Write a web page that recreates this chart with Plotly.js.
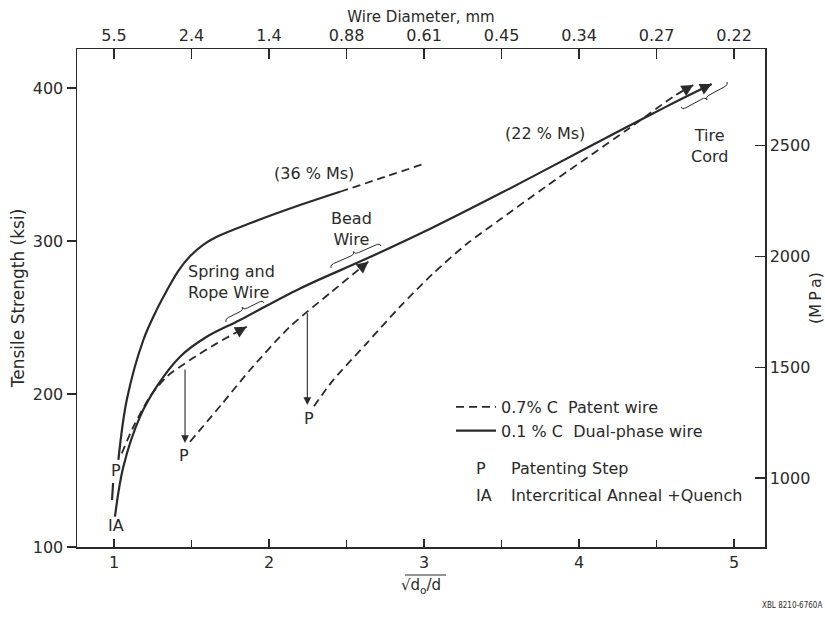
<!DOCTYPE html>
<html>
<head>
<meta charset="utf-8">
<script src="https://cdn.plot.ly/plotly-3.0.1.min.js"></script>
<style>html,body{margin:0;padding:0;background:#fff;}#chart{width:825px;height:623px;}</style>
</head>
<body>
<div id="chart"></div>
<script>
// ---------- data (x = sqrt(d0/d), y = tensile strength in ksi) ----------
const upperSolidX = [1.028, 1.082, 1.189, 1.275, 1.34, 1.415, 1.49, 1.575, 1.663, 1.877, 2.2, 2.458];
const upperSolidY = [156.9, 196.1, 235.3, 255.0, 267.5, 280.5, 290.0, 297.5, 302.8, 311.6, 323.5, 332.2];
const upperExtX = [2.458, 2.75, 2.994];
const upperExtY = [332.2, 342.0, 350.3];

const lowerSolidX = [1.006, 1.06, 1.168, 1.275, 1.426, 1.598, 1.813, 2.2, 2.63, 3.06, 3.49, 3.792, 4.308, 4.566, 4.856];
const lowerSolidY = [119.8, 152.5, 185.2, 204.8, 224.4, 237.4, 248.4, 269.0, 288.5, 309.0, 331.0, 347.0, 374.5, 388.0, 402.6];

const patent0X = [0.987, 0.994];
const patent0Y = [130.7, 141.8];
const patent1X = [1.05, 1.125, 1.232, 1.34, 1.49, 1.663, 1.856];
const patent1Y = [161.2, 178.6, 198.2, 211.3, 222.2, 233.1, 244.0];
const patent2X = [1.49, 1.70, 1.877, 2.135, 2.40, 2.641];
const patent2Y = [168.8, 194.0, 215.7, 244.0, 266.5, 286.5];
const patent3X = [2.29, 2.415, 2.63, 2.845, 3.06, 3.275, 3.49, 3.792, 4.308, 4.608, 4.737];
const patent3Y = [192.0, 209.2, 233.1, 257.1, 278.9, 298.0, 314.0, 336.0, 372.5, 394.3, 402.0];

// patenting drops (vertical arrows)
const dropX = [1.458, 2.247];
const dropTop = [217.0, 253.8];
const dropBottom = [168.0, 192.8];

// point labels
const pLabelX = [1.013, 1.452, 2.258];
const pLabelY = [149.7, 160.0, 184.3];

// axes ticks
const bottomTicks = [1, 2, 3, 4, 5];
const bottomMinor = [1.5, 2.5, 3.5, 4.5];
const topTickVals = [1, 1.5, 2, 2.5, 3, 3.5, 4, 4.5, 5];
const topTickText = ['5.5', '2.4', '1.4', '0.88', '0.61', '0.45', '0.34', '0.27', '0.22'];
const ksiTicks = [100, 200, 300, 400];
const mpaTicks = [1000, 1500, 2000, 2500];
const KSI_TO_MPA = 6.895;

// ---------- styling ----------
const INK = '#2a2a2a';
const FONT = 'DejaVu Sans, Arial, sans-serif';
const xRange = [0.761, 5.2];
const yRange = [100, 425.5];

// px -> data helpers for small decorative braces (calibrated to plot area)
const PL = 77, PT = 49, PW = 688, PH = 498;
function px2x(px) { return xRange[0] + (px - PL) / PW * (xRange[1] - xRange[0]); }
function py2y(py) { return yRange[1] - (py - PT) / PH * (yRange[1] - yRange[0]); }
function brace(p1, p2, h) {
  const dx = p2[0] - p1[0], dy = p2[1] - p1[1];
  const L = Math.hypot(dx, dy);
  const t = [dx / L, dy / L];
  const n = [t[1], -t[0]];
  const q = 4;
  const mid = [(p1[0] + p2[0]) / 2, (p1[1] + p2[1]) / 2];
  const P = (b, a, c) => [b[0] + t[0] * a + n[0] * c, b[1] + t[1] * a + n[1] * c];
  const pts = [p1, P(p1, 0, h / 2), P(p1, q, h / 2), P(mid, -q, h / 2), P(mid, 0, h / 2), P(mid, 0, h),
    P(mid, 0, h / 2), P(mid, q, h / 2), P(p2, -q, h / 2), P(p2, 0, h / 2), p2];
  const s = (p) => px2x(p[0]).toFixed(4) + ',' + py2y(p[1]).toFixed(3);
  return 'M' + s(pts[0]) + ' Q' + s(pts[1]) + ' ' + s(pts[2]) + ' L' + s(pts[3]) +
    ' Q' + s(pts[4]) + ' ' + s(pts[5]) + ' Q' + s(pts[6]) + ' ' + s(pts[7]) +
    ' L' + s(pts[8]) + ' Q' + s(pts[9]) + ' ' + s(pts[10]);
}

const solidLine = {color: INK, width: 2.2, shape: 'spline', smoothing: 1};
const dashLine = {color: INK, width: 1.8, dash: '8px,5px', shape: 'spline', smoothing: 0.8};

const traces = [
  {x: patent3X, y: patent3Y, mode: 'lines', line: dashLine, name: '0.7%\u00A0C\u00A0\u00A0Patent wire', showlegend: true, legendrank: 1, hoverinfo: 'skip'},
  {x: lowerSolidX, y: lowerSolidY, mode: 'lines', line: solidLine, name: '0.1\u00A0%\u00A0C\u00A0\u00A0Dual-phase wire', showlegend: true, legendrank: 2, hoverinfo: 'skip'},
  {x: upperSolidX, y: upperSolidY, mode: 'lines', line: solidLine, showlegend: false, hoverinfo: 'skip'},
  {x: upperExtX, y: upperExtY, mode: 'lines', line: dashLine, showlegend: false, hoverinfo: 'skip'},
  {x: patent0X, y: patent0Y, mode: 'lines', line: {color: INK, width: 2.2}, showlegend: false, hoverinfo: 'skip'},
  {x: patent1X, y: patent1Y, mode: 'lines', line: dashLine, showlegend: false, hoverinfo: 'skip'},
  {x: patent2X, y: patent2Y, mode: 'lines', line: dashLine, showlegend: false, hoverinfo: 'skip'},
  {x: [null], y: [null], xaxis: 'x2', yaxis: 'y2', showlegend: false, hoverinfo: 'skip'}
];

// arrowheads at curve ends
function endArrow(xs, ys) {
  const n = xs.length;
  const hx = xs[n - 1], hy = ys[n - 1];
  const tx = hx - 0.25 * (hx - xs[n - 2]), ty = hy - 0.25 * (hy - ys[n - 2]);
  return {x: hx, y: hy, ax: tx, ay: ty, xref: 'x', yref: 'y', axref: 'x', ayref: 'y',
    showarrow: true, arrowhead: 2, arrowsize: 1.3, arrowwidth: 1.8, arrowcolor: INK, text: ''};
}

const annFont = {family: FONT, size: 16, color: INK};
const annotations = [
  endArrow(patent1X, patent1Y),
  endArrow(patent2X, patent2Y),
  endArrow(patent3X, patent3Y),
  endArrow(lowerSolidX, lowerSolidY)
];
dropX.forEach((x, i) => annotations.push({
  x: x, y: dropBottom[i], ax: x, ay: dropTop[i], xref: 'x', yref: 'y', axref: 'x', ayref: 'y',
  showarrow: true, arrowhead: 2, arrowsize: 1.4, arrowwidth: 1.1, arrowcolor: INK, text: ''
}));
pLabelX.forEach((x, i) => annotations.push({
  x: x, y: pLabelY[i], xref: 'x', yref: 'y', text: 'P', showarrow: false, font: annFont
}));
const px = (v) => (v - PL) / PW;
const py = (v) => (PT + PH - v) / PH;
annotations.push(
  {x: 1.013, y: 114.0, xref: 'x', yref: 'y', text: 'IA', showarrow: false, font: annFont},
  {x: 2.29, y: 344.0, xref: 'x', yref: 'y', text: '(36\u00A0%\u00A0Ms)', showarrow: false, font: annFont},
  {x: 3.78, y: 370.5, xref: 'x', yref: 'y', text: '(22\u00A0%\u00A0Ms)', showarrow: false, font: annFont},
  {x: 1.76, y: 273.5, xref: 'x', yref: 'y', text: 'Spring and<br>Rope Wire', showarrow: false, font: annFont, align: 'left'},
  {x: 2.535, y: 308, xref: 'x', yref: 'y', text: 'Bead<br>Wire', showarrow: false, font: annFont, align: 'center'},
  {x: 4.845, y: 362, xref: 'x', yref: 'y', text: 'Tire<br>Cord', showarrow: false, font: annFont, align: 'center'},
  {x: px(481), y: py(480), xref: 'paper', yref: 'paper', xanchor: 'center', text: 'P', showarrow: false, font: annFont},
  {x: px(509), y: py(480), xref: 'paper', yref: 'paper', xanchor: 'left', text: 'Patenting Step', showarrow: false, font: annFont},
  {x: px(474), y: py(507), xref: 'paper', yref: 'paper', xanchor: 'left', text: 'IA', showarrow: false, font: annFont},
  {x: px(509), y: py(507), xref: 'paper', yref: 'paper', xanchor: 'left', text: 'Intercritical Anneal +Quench', showarrow: false, font: annFont},
  {x: px(824), y: py(612), xref: 'paper', yref: 'paper', xanchor: 'right', text: 'XBL 8210-6760A', showarrow: false,
    font: {family: 'DejaVu Sans Condensed, DejaVu Sans, sans-serif', size: 8, color: INK}}
);

const shapes = [
  {type: 'path', xref: 'x', yref: 'y', path: brace([226, 322], [264, 303], 6), line: {color: INK, width: 1}},
  {type: 'path', xref: 'x', yref: 'y', path: brace([331, 268], [381, 246], 6), line: {color: INK, width: 1}},
  {type: 'path', xref: 'x', yref: 'y', path: brace([727, 82], [681, 107], 6), line: {color: INK, width: 1}},
  {type: 'line', xref: 'paper', yref: 'paper', x0: px(405), x1: px(446), y0: py(575), y1: py(575), line: {color: INK, width: 1.2}}
];

const axisCommon = {showline: true, linecolor: INK, linewidth: 1.5, showgrid: false, zeroline: false,
  tickcolor: INK, tickwidth: 1.3, tickfont: {family: FONT, size: 16, color: INK}};

const layout = {
  width: 825, height: 623,
  margin: {l: PL, r: 825 - PL - PW, t: PT, b: 623 - PT - PH},
  paper_bgcolor: '#fff', plot_bgcolor: '#fff',
  font: {family: FONT, color: INK},
  showlegend: true,
  legend: {x: px(451), y: py(390), xanchor: 'left', yanchor: 'top', bgcolor: 'rgba(0,0,0,0)', itemwidth: 40,
    font: {family: FONT, size: 16, color: INK}, tracegroupgap: 0},
  xaxis: Object.assign({}, axisCommon, {range: xRange, tickmode: 'array', tickvals: bottomTicks, ticktext: bottomTicks.map(String),
    ticks: 'inside', ticklen: 8,
    minor: {tickmode: 'array', tickvals: bottomMinor, ticks: 'inside', ticklen: 7, tickcolor: INK, tickwidth: 1.3},
    title: {text: '\u221Ad<sub>o</sub>/d', font: {family: FONT, size: 15, color: INK}, standoff: 9}}),
  xaxis2: Object.assign({}, axisCommon, {overlaying: 'x', side: 'top', range: xRange, tickmode: 'array',
    tickvals: topTickVals, ticktext: topTickText, ticks: 'inside', ticklen: 10, anchor: 'y',
    title: {text: 'Wire Diameter, mm', font: {family: FONT, size: 15, color: INK}, standoff: 0}}),
  yaxis: Object.assign({}, axisCommon, {range: yRange, tickmode: 'array', tickvals: ksiTicks, ticks: 'outside', ticklen: 9,
    title: {text: 'Tensile Strength (ksi)', font: {family: FONT, size: 17, color: INK}, standoff: 4}}),
  yaxis2: Object.assign({}, axisCommon, {overlaying: 'y', side: 'right', anchor: 'x',
    range: [yRange[0] * KSI_TO_MPA, yRange[1] * KSI_TO_MPA], tickmode: 'array', tickvals: mpaTicks, ticks: 'inside', ticklen: 10,
    title: {text: '(M\u2009P\u2009a)', font: {family: FONT, size: 16, color: INK}, standoff: 4}}),
  annotations: annotations,
  shapes: shapes
};

Plotly.newPlot('chart', traces, layout, {staticPlot: true, displayModeBar: false});
</script>
</body>
</html>
